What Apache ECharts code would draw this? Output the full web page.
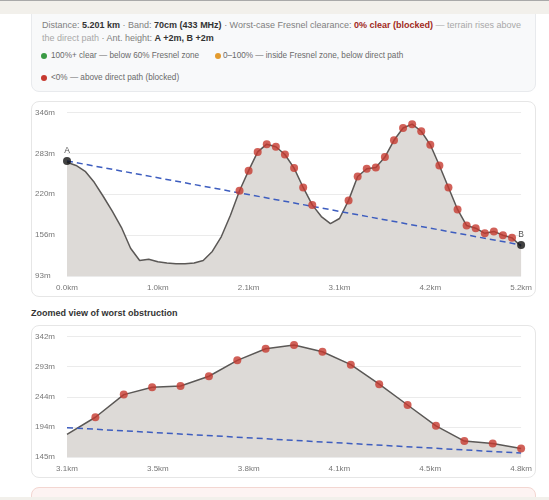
<!DOCTYPE html>
<html>
<head>
<meta charset="utf-8">
<script src="https://cdn.jsdelivr.net/npm/echarts@6/dist/echarts.min.js"></script>
<style>
  body { margin: 0; width: 549px; height: 500px; overflow: hidden; background: #fff; position: relative;
         font-family: "Liberation Sans", Arial, sans-serif; }
  .topbar { position: absolute; left: 0; top: 0; width: 549px; height: 13px; background: #f2f0eb;
            border-top: 1px solid #a9a9a9; z-index: 5; }
  .botbar { position: absolute; left: 0; top: 497px; width: 549px; height: 3px; background: #f2f0eb; z-index: 5; }
  .info { position: absolute; left: 31px; top: -10px; width: 505px; height: 102px; box-sizing: border-box;
          background: #f8f9fa; border: 1px solid #e8eaed; border-radius: 8px; }
  .line { position: absolute; left: 42px; font-size: 9px; color: #808080; white-space: nowrap; }
  .line b { color: #333; font-weight: 700; }
  .line b.red { color: #a12a22; }
  .muted { color: #a8a8a8; }
  .leg { position: absolute; font-size: 8.2px; color: #6a6a6a; white-space: nowrap; }
  .dot { position: absolute; width: 6px; height: 6px; border-radius: 50%; }
  .card { position: absolute; left: 31px; width: 505px; box-sizing: border-box; background: #fff;
          border: 1px solid #e6e6e6; border-radius: 8px; }
  .card > div { position: absolute; left: 0; top: 0; right: 0; bottom: 0; }
  .title { position: absolute; left: 31px; top: 308px; font-size: 9px; font-weight: 700; color: #333; }
  .alert { position: absolute; left: 31px; top: 487px; width: 505px; height: 30px; box-sizing: border-box;
           background: #fdf3f2; border: 1px solid #f3d6d1; border-radius: 8px; }
</style>
</head>
<body>
<div class="topbar"></div>
<div class="info"></div>
<div class="line" style="top:20px">Distance: <b>5.201 km</b> · Band: <b>70cm (433 MHz)</b> · Worst-case Fresnel clearance: <b class="red">0% clear (blocked)</b> <span class="muted">— terrain rises above</span></div>
<div class="line" style="top:33px"><span class="muted">the direct path</span> · Ant. height: <b>A +2m, B +2m</b></div>
<div class="dot" style="left:41px;top:53px;background:#3a9a44"></div>
<div class="leg" style="left:51px;top:51px">100%+ clear — below 60% Fresnel zone</div>
<div class="dot" style="left:215px;top:53px;background:#e39b2e"></div>
<div class="leg" style="left:223px;top:51px">0–100% — inside Fresnel zone, below direct path</div>
<div class="dot" style="left:41px;top:75px;background:#c6392f"></div>
<div class="leg" style="left:51px;top:73px">&lt;0% — above direct path (blocked)</div>

<div class="card" style="top:101px;height:196px"><div id="profile"></div></div>
<div class="title">Zoomed view of worst obstruction</div>
<div class="card" style="top:325px;height:153px"><div id="zoomed"></div></div>
<div class="alert"></div>
<div class="botbar"></div>

<script>
// sample distances along the path (km)
var distKm = [0, 0.104, 0.208, 0.312, 0.416, 0.520, 0.624, 0.728, 0.832, 0.936,
              1.040, 1.144, 1.248, 1.352, 1.456, 1.560, 1.664, 1.768, 1.872, 1.976,
              2.080, 2.184, 2.288, 2.392, 2.496, 2.601, 2.705, 2.809, 2.913, 3.017,
              3.121, 3.225, 3.329, 3.433, 3.537, 3.641, 3.745, 3.849, 3.953, 4.057,
              4.161, 4.265, 4.369, 4.473, 4.577, 4.681, 4.785, 4.889, 4.993, 5.097, 5.201];
// terrain elevation (m)
var terrainM = [269, 264, 255, 238, 216, 193, 168, 136, 117, 119,
                115, 113, 112, 112, 113, 117, 131, 154, 187, 225,
                256, 285, 297, 293, 281, 260, 230, 203, 185, 174,
                182, 210, 247, 259, 261, 277, 303, 322, 328, 317,
                296, 264, 230, 196, 171, 167, 159, 162, 156, 152, 139];
var antA = 2, antB = 2;
// worst obstruction window (sample indexes)
var zoomFrom = 30, zoomTo = 46;

// axis ticks
var yTicks1 = [93, 156.25, 219.5, 282.75, 346];
var xTicks1 = [0, 1.040, 2.080, 3.121, 4.161, 5.201];
var yTicks2 = [145, 194.25, 243.5, 292.75, 342];
var xTicks2 = [3.121, 3.454, 3.787, 4.119, 4.452, 4.785];

var n = distKm.length;
var total = distKm[n - 1];
var hA = terrainM[0] + antA, hB = terrainM[n - 1] + antB;

function pathAt(d) { return hA + (hB - hA) * d / total; }

var terrain = distKm.map(function(d, i) { return [d, terrainM[i]]; });
var blocked = terrain.filter(function(p, i) { return i > 0 && i < n - 1 && p[1] > pathAt(p[0]); });

var labelFont = { color: '#777', fontSize: 8, fontFamily: '"Liberation Sans", Arial, sans-serif' };

function makeOption(lo, hi, xTicks, yTicks, withEnds) {
    var pts = terrain.slice(lo, hi + 1);
    var x0 = distKm[lo], x1 = distKm[hi];
    var series = [
        {
            type: 'line', data: pts, showSymbol: false, z: 2,
            lineStyle: { color: '#5b5856', width: 1.5 },
            areaStyle: { color: '#dddad7', opacity: 1 }
        },
        {
            type: 'line', data: [[x0, pathAt(x0)], [x1, pathAt(x1)]], showSymbol: false, z: 3,
            lineStyle: { color: '#3d5dbf', width: 1.5, type: [6, 4] }
        },
        {
            type: 'scatter', z: 4, symbolSize: 8,
            data: blocked.filter(function(p) { return p[0] >= x0 && p[0] <= x1; }),
            itemStyle: { color: '#c6392f' }
        }
    ];
    if (withEnds) {
        series.push({
            type: 'scatter', z: 5, symbolSize: 8,
            data: [
                { value: [0, hA], label: { formatter: 'A' } },
                { value: [total, hB], label: { formatter: 'B' } }
            ],
            itemStyle: { color: '#111' },
            label: { show: true, position: 'top', distance: 2, color: '#222', fontSize: 8.5,
                     fontFamily: '"Liberation Sans", Arial, sans-serif' }
        });
    }
    return {
        animation: false,
        grid: { left: 34, right: 10, top: 10.5, bottom: 20 },
        xAxis: {
            type: 'value', min: x0, max: x1,
            axisLine: { show: false }, splitLine: { show: false },
            axisTick: { show: false, customValues: xTicks },
            axisLabel: Object.assign({ customValues: xTicks, margin: 8,
                formatter: function(v) { return v.toFixed(1) + 'km'; } }, labelFont)
        },
        yAxis: {
            type: 'value', min: yTicks[0], max: yTicks[yTicks.length - 1],
            axisLine: { show: false },
            axisTick: { show: false, customValues: yTicks },
            splitLine: { show: true, lineStyle: { color: '#ebebeb' } },
            axisLabel: Object.assign({ customValues: yTicks, align: 'left', margin: 32,
                formatter: function(v) { return Math.round(v) + 'm'; } }, labelFont)
        },
        series: series
    };
}

var profileChart = echarts.init(document.getElementById('profile'));
profileChart.setOption(makeOption(0, n - 1, xTicks1, yTicks1, true));

var zoomChart = echarts.init(document.getElementById('zoomed'));
zoomChart.setOption(makeOption(zoomFrom, zoomTo, xTicks2, yTicks2, false));
</script>
</body>
</html>
